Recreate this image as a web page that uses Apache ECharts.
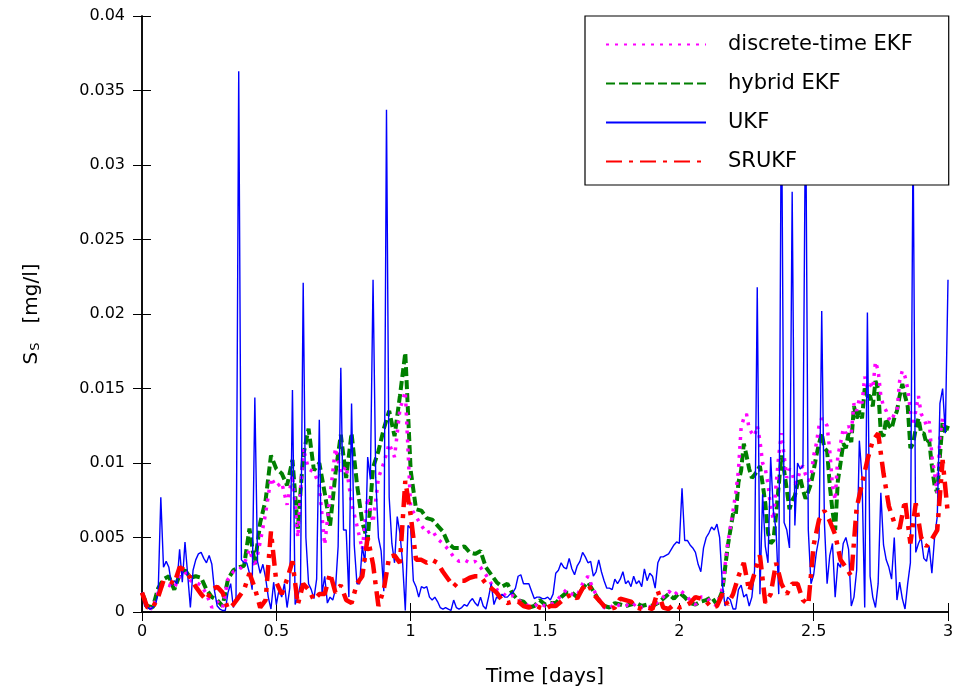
<!DOCTYPE html>
<html>
<head>
<meta charset="utf-8">
<script src="https://cdn.jsdelivr.net/npm/echarts@6/dist/echarts.min.js"></script>
<style>html,body{margin:0;padding:0;background:#fff}#c{width:963px;height:696px}</style>
</head>
<body>
<div id="c"></div>
<script>
// values in units of 1e-3 mg/l
const UNIT = 0.001;
const seriesNames = ['discrete-time EKF', 'hybrid EKF', 'UKF', 'SRUKF'];
const xTicks = [0, 0.5, 1, 1.5, 2, 2.5, 3];
// discrete-time EKF: every 0.02 days from 0 to 2.18, then every 0.01 days from 2.20 to 3.00
const ekfCoarse = [
  1.3,0.3,0.2,1.3,1.9,1.8,1.6,2.4,2.7,2.1,2.0,1.8,1.2,0.3,0.7,0.3,2.2,2.7,2.8,3.2,4.2,3.0,4.7,6.6,9.0,8.4,
  8.7,7.2,9.2,5.0,11.0,9.6,9.4,8.5,4.5,7.8,11.0,9.3,9.8,7.3,5.8,4.2,7.7,6.0,9.0,10.0,11.3,10.4,13.6,14.8,7.0,
  6.4,5.8,5.3,5.5,4.9,4.6,4.2,3.7,3.4,3.5,3.3,3.4,3.0,2.5,1.9,1.5,1.3,1.0,1.1,0.8,0.6,0.4,0.4,0.6,0.4,
  0.5,0.7,1.1,1.5,1.2,1.1,1.9,2.4,1.5,0.9,0.3,0.2,0.6,0.4,0.5,0.3,0.6,0.3,0.4,0.3,0.7,1.0,1.4,1.1,1.5,
  1.2,0.8,0.5,1.0,1.0,0.6,0.4,1.6,4.6
];
const ekfFine = [
  6.8,8.0,9.5,12.4,13.0,13.3,12.3,12.0,11.8,12.5,
  11.5,10.0,9.6,8.6,7.0,6.2,8.5,10.5,12.0,10.5,
  9.0,9.6,9.3,8.6,8.8,9.6,9.8,9.2,8.8,9.0,
  10.5,11.3,12.5,13.0,12.8,12.5,10.8,8.5,7.5,10.5,
  11.3,12.3,12.0,12.5,12.0,14.0,13.5,14.3,14.0,15.8,
  15.0,15.3,15.0,16.8,16.2,14.5,13.8,13.5,13.0,12.8,
  13.3,13.5,15.5,16.2,15.8,15.0,13.5,12.5,13.5,14.5,
  13.3,13.0,12.5,12.8,10.5,9.3,8.0,11.8,13.0,12.3,
  12.3
];
// hybrid EKF: same sampling as the discrete-time EKF
const hybridCoarse = [
  1.3,0.4,0.3,1.6,2.2,2.4,1.5,2.5,2.8,2.3,2.4,2.3,1.5,1.0,0.8,0.4,2.2,2.8,3.0,3.1,5.6,3.2,6.0,7.5,10.5,9.6,
  9.3,8.5,10.2,5.6,10.5,12.3,9.5,10.0,8.0,5.8,9.3,11.9,9.0,12.0,8.6,6.0,4.8,9.7,10.8,12.3,13.5,11.8,14.5,17.4,9.5,
  6.9,6.8,6.3,6.2,5.8,5.4,4.6,4.3,4.3,4.4,4.0,3.9,4.1,3.0,2.5,2.0,1.7,1.9,1.2,0.8,0.7,0.3,0.4,0.8,0.5,
  0.6,0.6,1.0,1.3,1.3,1.0,1.6,2.0,1.4,0.8,0.4,0.3,0.6,0.5,0.4,0.5,0.6,0.4,0.5,0.4,0.6,0.9,1.2,0.9,1.3,
  1.0,0.6,0.5,0.7,0.8,1.0,0.5,1.4,4.4
];
const hybridFine = [
  6.6,6.5,8.7,9.5,11.3,10.5,9.6,9.0,9.2,9.5,
  9.8,8.6,7.3,5.3,4.6,4.8,6.5,8.5,10.5,9.5,
  8.2,6.9,7.5,7.8,8.6,9.0,8.2,7.6,8.1,8.6,
  9.5,10.5,11.3,12.0,11.0,10.8,8.5,6.8,5.5,8.8,
  10.0,11.3,11.0,12.0,11.4,13.8,13.0,13.5,13.0,15.0,
  14.5,14.5,13.8,15.5,15.0,12.0,11.8,13.0,12.5,12.3,
  13.0,13.5,14.5,15.3,14.5,13.8,11.0,11.3,12.3,13.0,
  12.0,12.0,11.3,11.5,9.8,8.5,8.0,10.5,12.8,12.0,
  12.5
];
const FINE_START = 2.2;
// UKF, sampled every 0.01 days
const ukf = [
  1.3,0.4,0.3,0.2,0.3,0.5,1.2,7.7,3.0,3.4,3.0,1.8,2.1,1.9,4.2,2.0,4.7,2.5,0.3,2.8,3.5,3.9,4.0,3.6,3.3,3.8,3.2,1.4,0.4,0.2,0.1,0.1,1.3,1.9,0.3,1.0,36.3,3.5,3.3,3.3,2.6,1.5,14.4,3.4,2.6,3.2,2.3,1.0,0.2,2.0,0.5,
  1.5,1.0,1.9,0.3,1.6,14.9,0.5,1.0,1.9,22.1,5.0,1.9,1.5,0.9,2.2,12.9,1.2,2.4,0.6,1.0,0.8,1.5,4.4,16.4,5.5,5.5,1.0,14.0,4.5,1.9,1.9,4.4,3.3,10.4,8.9,22.3,9.0,5.0,4.1,1.4,33.7,7.7,4.6,3.3,6.4,5.3,3.3,0.1,5.8,5.6,
  2.1,1.7,1.0,1.7,1.6,1.7,1.0,0.8,1.0,0.7,0.3,0.2,0.3,0.2,0.1,0.8,0.3,0.2,0.3,0.5,0.4,0.7,0.9,0.6,0.4,1.0,0.4,0.2,1.0,1.9,0.5,1.0,0.9,1.2,1.0,1.0,1.2,1.3,1.6,2.4,2.5,1.9,1.9,1.9,1.4,0.9,1.0,1.0,0.9,0.9,
  1.0,0.8,1.2,2.6,2.8,3.3,3.0,2.9,3.6,2.9,2.5,3.1,3.4,4.0,3.7,3.3,3.4,2.4,2.7,3.5,2.7,2.1,1.6,1.6,1.5,2.2,1.9,2.2,2.7,1.9,2.1,1.7,2.4,1.9,2.1,1.7,2.9,2.1,2.6,2.4,1.6,3.3,3.7,3.7,3.8,3.9,4.2,4.5,4.7,4.6,
  8.3,4.8,4.8,4.5,4.3,4.0,3.2,2.7,4.3,5.0,5.3,5.7,5.5,5.9,5.0,1.9,0.4,1.0,0.8,0.2,0.2,1.5,1.8,1.0,1.2,0.4,1.0,2.8,21.8,1.2,7.9,4.4,3.3,10.4,6.8,5.5,1.2,36.0,6.0,5.5,4.3,28.2,5.8,10.0,9.6,9.8,35.0,5.5,1.9,2.5,
  4.0,5.0,20.2,6.0,1.9,3.8,4.6,1.0,3.3,3.0,4.6,5.0,4.2,0.4,1.0,2.8,11.5,9.0,0.3,20.1,2.4,1.0,0.3,1.9,8.0,4.5,3.5,3.0,2.2,5.0,0.8,2.0,0.9,0.2,1.9,3.3,32.0,4.0,4.6,5.0,3.6,3.4,4.4,2.6,5.0,6.4,14.0,15.0,12.0,22.3
];
// SRUKF, sampled every 0.02 days
const srukf = [
  1.3,0.3,0.3,1.0,2.1,2.1,1.9,3.0,2.8,2.3,1.7,1.2,0.8,1.5,1.7,1.3,0.2,0.5,1.0,1.5,2.6,1.6,0.3,0.8,5.4,2.0,
  1.2,2.2,3.4,0.5,1.9,1.5,0.8,1.2,1.2,2.6,1.3,1.8,0.8,0.6,1.9,2.4,5.0,3.2,0.4,1.5,3.7,3.8,3.3,8.8,6.5,
  3.5,3.5,3.3,3.5,3.3,2.7,2.2,1.7,2.1,2.1,2.3,2.4,2.4,1.9,1.6,1.3,0.8,0.6,0.7,0.7,0.4,0.3,0.5,0.3,0.2,
  0.4,0.4,0.7,1.0,1.2,0.9,1.6,1.9,1.2,0.8,0.4,0.2,0.3,0.9,0.8,0.7,0.3,0.2,0.3,0.2,1.4,0.3,0.2,0.5,0.3,
  0.4,0.6,1.0,0.9,0.7,0.3,0.4,1.2,0.5,1.2,2.4,3.3,1.4,2.6,3.8,0.6,1.2,3.3,1.9,1.2,1.9,1.9,0.8,0.5,4.5,
  6.2,6.8,6.1,5.2,3.5,3.0,2.4,7.0,8.6,10.2,11.5,12.0,9.3,7.1,6.0,5.6,7.5,4.6,7.3,5.0,4.4,4.9,5.5,10.2,6.5
];

function pairs(vals, step, start) {
  const s = start || 0;
  return vals.map((v, i) => [+(s + i * step).toFixed(2), v * UNIT]);
}
const ekfData = pairs(ekfCoarse, 0.02).concat(pairs(ekfFine, 0.01, FINE_START));
const hybridData = pairs(hybridCoarse, 0.02).concat(pairs(hybridFine, 0.01, FINE_START));

const FONT = 'DejaVu Sans';
const chart = echarts.init(document.getElementById('c'), null, {renderer: 'canvas'});
const axisLine = {show: true, lineStyle: {color: '#000', width: 1.5}};
const tick = {show: true, inside: true, length: 9, lineStyle: {color: '#000', width: 1}};
chart.setOption({
  animation: false,
  backgroundColor: '#fff',
  textStyle: {fontFamily: FONT},
  grid: {left: 142, right: 15, top: 16, bottom: 84},
  legend: {
    orient: 'vertical', left: 585, top: 16,
    padding: [18, 36, 13, 20],
    itemWidth: 100, itemHeight: 20, itemGap: 18,
    backgroundColor: '#fff', borderColor: '#000', borderWidth: 1.2, z: 10,
    itemStyle: {color: 'rgba(0,0,0,0)', borderWidth: 0, opacity: 0},
    data: seriesNames,
    textStyle: {fontSize: 21, color: '#000', fontFamily: FONT, padding: [0, 0, 0, 17]}
  },
  xAxis: [{
    type: 'value', min: xTicks[0], max: xTicks[xTicks.length - 1], interval: 0.5,
    axisLine: axisLine, axisTick: tick, splitLine: {show: false},
    axisLabel: {fontSize: 16, color: '#000', margin: 12, fontFamily: FONT},
    name: 'Time [days]', nameLocation: 'middle', nameGap: 55,
    nameTextStyle: {fontSize: 20, color: '#000', fontFamily: FONT}
  }, {
    type: 'value', position: 'top', min: 0, max: 3, interval: 0.5,
    axisLine: axisLine, axisTick: tick, axisLabel: {show: false}, splitLine: {show: false}
  }],
  yAxis: [{
    type: 'value', min: 0, max: 0.04, interval: 0.005,
    axisLine: axisLine, axisTick: tick, splitLine: {show: false},
    axisLabel: {fontSize: 16, color: '#000', margin: 17, fontFamily: FONT},
    name: '{m|S}{s|S}{m|   [mg/l]}', nameLocation: 'middle', nameGap: 100,
    nameTextStyle: {
      color: '#000', fontFamily: FONT,
      rich: {
        m: {fontSize: 20, fontFamily: FONT, color: '#000', lineHeight: 26, verticalAlign: 'bottom'},
        s: {fontSize: 13, fontFamily: FONT, color: '#000', lineHeight: 26, verticalAlign: 'bottom', padding: [0, 0, 0, 1]}
      }
    }
  }, {
    type: 'value', position: 'right', min: 0, max: 0.04, interval: 0.005,
    axisLine: axisLine, axisTick: tick, axisLabel: {show: false}, splitLine: {show: false}
  }],
  series: [
    {name: seriesNames[0], type: 'line', data: ekfData, showSymbol: false, symbol: 'none', z: 3,
     lineStyle: {color: '#ff00ff', width: 3.5, type: [3, 6]}, itemStyle: {color: '#ff00ff'}},
    {name: seriesNames[1], type: 'line', data: hybridData, showSymbol: false, symbol: 'none', z: 2,
     lineStyle: {color: '#007f00', width: 4, type: [9, 4]}, itemStyle: {color: '#007f00'}},
    {name: seriesNames[2], type: 'line', data: pairs(ukf, 0.01), showSymbol: false, symbol: 'none', z: 4,
     lineStyle: {color: '#0000ff', width: 1.4, type: 'solid'}, itemStyle: {color: '#0000ff'}},
    {name: seriesNames[3], type: 'line', data: pairs(srukf, 0.02), showSymbol: false, symbol: 'none', z: 5,
     lineStyle: {color: '#ff0000', width: 4.5, type: [16, 7, 4, 7]}, itemStyle: {color: '#ff0000'}}
  ]
});
</script>
</body>
</html>
